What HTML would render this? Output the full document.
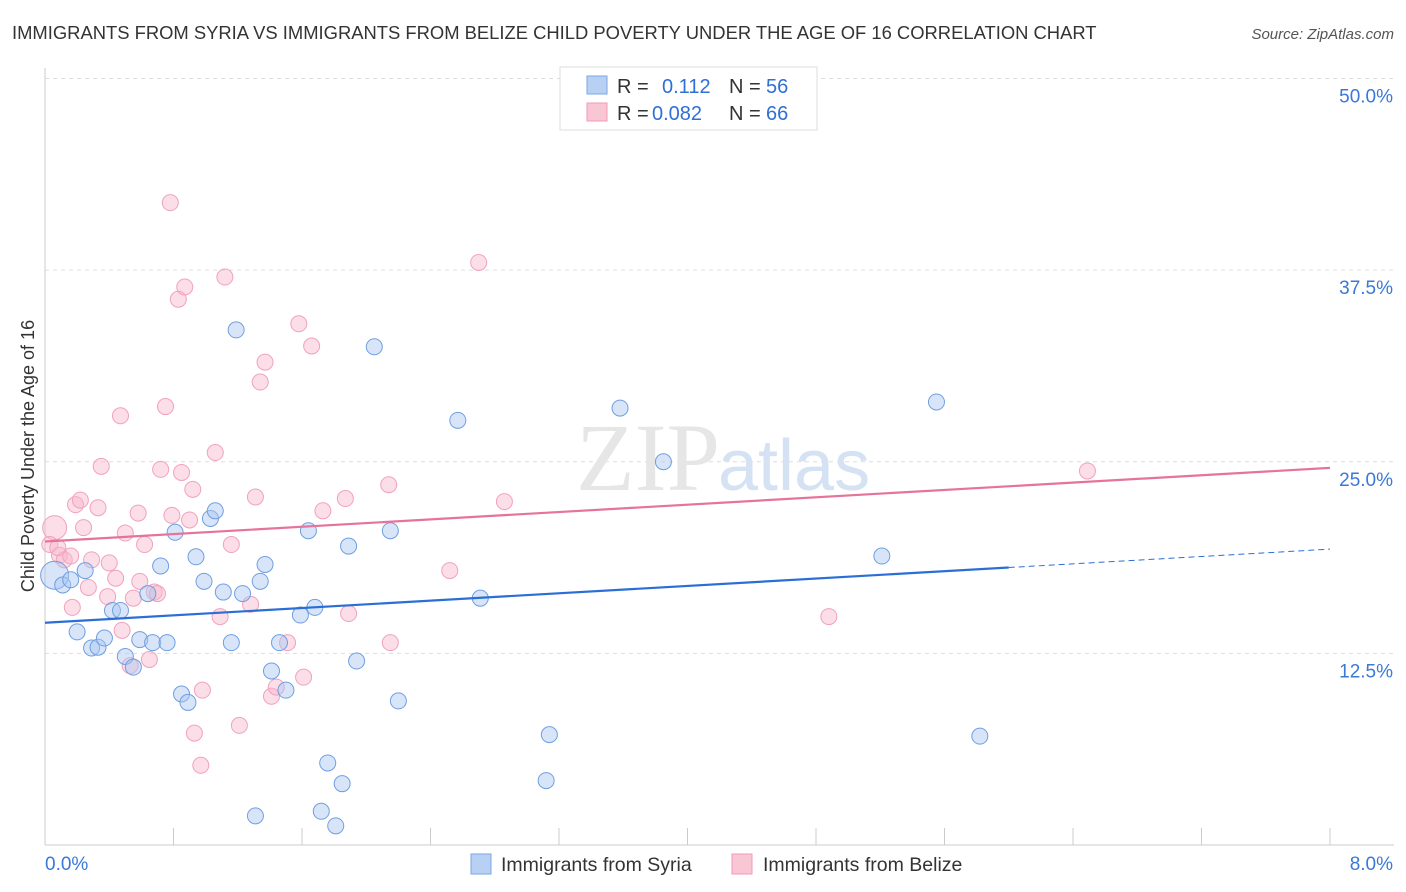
<!DOCTYPE html>
<html><head><meta charset="utf-8"><style>
body{margin:0;background:#fff;font-family:"Liberation Sans",sans-serif;}
svg{display:block}
</style></head><body>
<svg id="chart" width="1406" height="892" xmlns="http://www.w3.org/2000/svg">
<text x="12" y="39" font-size="18.4" fill="#333">IMMIGRANTS FROM SYRIA VS IMMIGRANTS FROM BELIZE CHILD POVERTY UNDER THE AGE OF 16 CORRELATION CHART</text>
<text x="1394" y="39" font-size="15" fill="#555" font-style="italic" text-anchor="end">Source: ZipAtlas.com</text>
<text x="34" y="456" font-size="18" fill="#333" text-anchor="middle" transform="rotate(-90 34 456)">Child Poverty Under the Age of 16</text>
<g id="grid"></g>
<text x="720" y="490" font-size="96" fill="#e6e6e6" text-anchor="end" font-family="Liberation Serif,serif">ZIP</text>
<text x="718" y="490" font-size="72" fill="#d4e2f4">atlas</text>
<g id="pts"></g>
<g id="lines"></g>
<g>
<rect x="560" y="67" width="257" height="63" fill="#fff" stroke="#ddd"/>
<rect x="587" y="76" width="20" height="18" fill="#b8d0f4" stroke="#7aa6e6"/>
<rect x="587" y="103" width="20" height="18" fill="#f9c6d6" stroke="#f09ab6"/>
<text x="617" y="93" font-size="20" fill="#333">R =</text><text x="662" y="93" font-size="20" fill="#2f6fd6">0.112</text>
<text x="729" y="93" font-size="20" fill="#333">N =</text><text x="766" y="93" font-size="20" fill="#2f6fd6">56</text>
<text x="617" y="120" font-size="20" fill="#333">R =</text><text x="652" y="120" font-size="20" fill="#2f6fd6">0.082</text>
<text x="729" y="120" font-size="20" fill="#333">N =</text><text x="766" y="120" font-size="20" fill="#2f6fd6">66</text>
</g>
<g>
<rect x="471" y="854" width="20" height="20" fill="#b8d0f4" stroke="#7aa6e6"/>
<text x="501" y="871" font-size="19.5" fill="#333">Immigrants from Syria</text>
<rect x="732" y="854" width="20" height="20" fill="#f9c6d6" stroke="#f09ab6"/>
<text x="763" y="871" font-size="19.5" fill="#333">Immigrants from Belize</text>
</g>
</svg>
<script>
const xTicks=[0,0.8,1.6,2.4,3.2,4,4.8,5.6,6.4,7.2,8];
const yTicks=[12.5,25,37.5,50];
const yTickLabels=["12.5%","25.0%","37.5%","50.0%"];
const syriaX=[0.06,0.11,0.16,0.25,0.20,0.29,0.33,0.37,0.42,0.47,0.50,0.55,0.59,0.64,0.67,0.72,0.76,0.81,0.85,0.89,0.94,0.99,1.03,1.06,1.11,1.16,1.19,1.23,1.31,1.34,1.37,1.41,1.46,1.50,1.59,1.64,1.68,1.72,1.76,1.81,1.85,1.89,1.94,2.05,2.15,2.20,2.57,2.71,3.12,3.14,3.58,3.85,5.21,5.55,5.82];
const syriaY=[17.6,16.96,17.3,17.9,13.9,12.85,12.9,13.5,15.3,15.3,12.3,11.6,13.4,16.4,13.2,18.2,13.2,20.4,9.85,9.3,18.8,17.2,21.3,21.8,16.5,13.2,33.6,16.4,1.9,17.2,18.3,11.35,13.2,10.1,15.0,20.5,15.5,2.2,5.35,1.25,4.0,19.5,12.0,32.5,20.5,9.4,27.7,16.1,4.2,7.2,28.5,25.0,18.85,28.9,7.1];
const belizeX=[0.06,0.03,0.09,0.12,0.16,0.08,0.17,0.19,0.22,0.24,0.27,0.29,0.33,0.35,0.39,0.40,0.44,0.47,0.48,0.50,0.53,0.55,0.58,0.59,0.62,0.65,0.68,0.70,0.72,0.75,0.78,0.79,0.83,0.85,0.87,0.90,0.92,0.93,0.97,0.98,1.06,1.09,1.12,1.16,1.21,1.28,1.31,1.34,1.37,1.41,1.44,1.51,1.58,1.61,1.66,1.73,1.87,1.89,2.14,2.15,2.52,2.70,2.86,4.88,6.49];
const belizeY=[20.7,19.6,18.9,18.6,18.85,19.4,15.5,22.2,22.5,20.7,16.8,18.6,22.0,24.7,16.2,18.4,17.4,28.0,14.0,20.35,11.7,16.1,21.65,17.2,19.6,12.1,16.5,16.4,24.5,28.6,41.9,21.5,35.6,24.3,36.4,21.2,23.2,7.3,5.2,10.1,25.6,14.9,37.05,19.6,7.8,15.7,22.7,30.2,31.5,9.7,10.3,13.2,34.0,10.95,32.55,21.8,22.6,15.1,23.5,13.2,17.9,38.0,22.4,14.9,24.4];
const syriaTrend=[[0,14.5],[6.0,18.1],[8,19.3]];
const belizeTrend=[[0,19.8],[8,24.6]];
const NS="http://www.w3.org/2000/svg";
const X=v=>45+v*(1285/8);
const Y=v=>845-v*15.33;
function mk(t,a,p){const e=document.createElementNS(NS,t);for(const k in a)e.setAttribute(k,a[k]);p.appendChild(e);return e;}
const grid=document.getElementById('grid');
let ax=mk('line',{x1:45,y1:845,x2:1394,y2:845,stroke:'#ccc'},grid);


let ay=mk('line',{x1:45,y1:68,x2:45,y2:845,stroke:'#ccc'},grid);


yTicks.forEach((t,i)=>{
 let g=mk('line',{x1:45,y1:Y(t),x2:1394,y2:Y(t),stroke:'#ddd','stroke-dasharray':'4,4'},grid);
 
 
 let tx=mk('text',{x:1393,y:Y(t)+24,'font-size':19,fill:'#3b78d8','text-anchor':'end'},grid);
 tx.textContent=yTickLabels[i];
 
 
});
xTicks.forEach(t=>{
 let l=mk('line',{x1:X(t),y1:828,x2:X(t),y2:845,stroke:'#ccc'},grid);
 
 
});
let xl0=mk('text',{x:45,y:870,'font-size':19,fill:'#3b78d8'},grid);xl0.textContent='0.0%';


let xl1=mk('text',{x:1393,y:870,'font-size':19,fill:'#3b78d8','text-anchor':'end'},grid);xl1.textContent='8.0%';


const pts=document.getElementById('pts');
belizeX.forEach((x,i)=>{
 let c=mk('circle',{cx:X(x),cy:Y(belizeY[i]),r:i==0?12:8,fill:'rgba(248,182,204,0.45)',stroke:'#f0a2bc','stroke-width':1},pts);
 
 
});
syriaX.forEach((x,i)=>{
 let c=mk('circle',{cx:X(x),cy:Y(syriaY[i]),r:i==0?14:8,fill:'rgba(168,198,242,0.45)',stroke:'#6f9fe0','stroke-width':1},pts);
 
 
});
const lines=document.getElementById('lines');
let s1=mk('line',{x1:X(syriaTrend[0][0]),y1:Y(syriaTrend[0][1]),x2:X(syriaTrend[1][0]),y2:Y(syriaTrend[1][1]),stroke:'#2b6fd6','stroke-width':2.2},lines);


let s2=mk('line',{x1:X(syriaTrend[1][0]),y1:Y(syriaTrend[1][1]),x2:X(syriaTrend[2][0]),y2:Y(syriaTrend[2][1]),stroke:'#2b6fd6','stroke-width':1,'stroke-dasharray':'6,4'},lines);


let b1=mk('line',{x1:X(belizeTrend[0][0]),y1:Y(belizeTrend[0][1]),x2:X(belizeTrend[1][0]),y2:Y(belizeTrend[1][1]),stroke:'#e5739c','stroke-width':2.2},lines);


</script>
</body></html>
